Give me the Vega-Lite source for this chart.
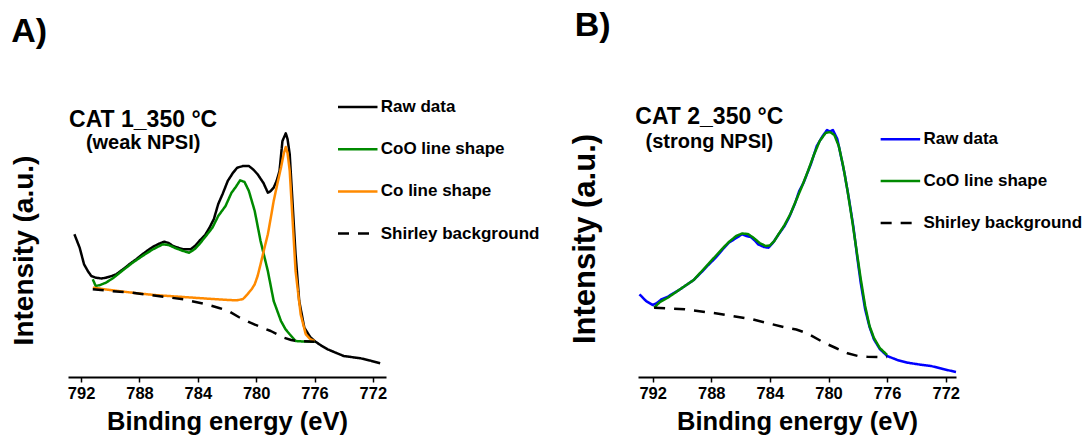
{
  "$schema": "https://vega.github.io/schema/vega-lite/v6.json",
  "padding": {"left": 10, "top": 8, "right": 0, "bottom": 0},
  "background": "white",
  "config": {
    "view": {"stroke": null},
    "font": "Liberation Sans",
    "axis": {"grid": false}
  },
  "datasets": {
    "panelA": [
      {"s": "Raw data", "E": 792.46, "I": 142.7}, {"s": "Raw data", "E": 792.1, "I": 129.3}, {"s": "Raw data", "E": 791.8, "I": 112.7},
      {"s": "Raw data", "E": 791.5, "I": 105}, {"s": "Raw data", "E": 791.3, "I": 101}, {"s": "Raw data", "E": 791.0, "I": 99.3},
      {"s": "Raw data", "E": 790.6, "I": 98.5}, {"s": "Raw data", "E": 790.3, "I": 99.3}, {"s": "Raw data", "E": 789.9, "I": 101},
      {"s": "Raw data", "E": 789.6, "I": 102.7}, {"s": "Raw data", "E": 789.1, "I": 108}, {"s": "Raw data", "E": 788.7, "I": 112.7},
      {"s": "Raw data", "E": 788.2, "I": 118}, {"s": "Raw data", "E": 787.8, "I": 122.7}, {"s": "Raw data", "E": 787.4, "I": 127},
      {"s": "Raw data", "E": 787.1, "I": 130}, {"s": "Raw data", "E": 786.7, "I": 133}, {"s": "Raw data", "E": 786.3, "I": 135.3},
      {"s": "Raw data", "E": 786.0, "I": 134}, {"s": "Raw data", "E": 785.7, "I": 131}, {"s": "Raw data", "E": 785.3, "I": 129},
      {"s": "Raw data", "E": 785.0, "I": 127.7}, {"s": "Raw data", "E": 784.5, "I": 127.7}, {"s": "Raw data", "E": 784.2, "I": 131},
      {"s": "Raw data", "E": 783.9, "I": 136}, {"s": "Raw data", "E": 783.5, "I": 142}, {"s": "Raw data", "E": 783.2, "I": 149.3},
      {"s": "Raw data", "E": 782.9, "I": 158}, {"s": "Raw data", "E": 782.6, "I": 173}, {"s": "Raw data", "E": 782.3, "I": 183},
      {"s": "Raw data", "E": 781.95, "I": 196}, {"s": "Raw data", "E": 781.6, "I": 204}, {"s": "Raw data", "E": 781.3, "I": 209.3},
      {"s": "Raw data", "E": 780.9, "I": 211}, {"s": "Raw data", "E": 780.5, "I": 211}, {"s": "Raw data", "E": 780.2, "I": 207.5},
      {"s": "Raw data", "E": 779.9, "I": 202.7}, {"s": "Raw data", "E": 779.5, "I": 194}, {"s": "Raw data", "E": 779.2, "I": 184.3},
      {"s": "Raw data", "E": 779.0, "I": 186}, {"s": "Raw data", "E": 778.8, "I": 189.3}, {"s": "Raw data", "E": 778.6, "I": 196},
      {"s": "Raw data", "E": 778.4, "I": 206}, {"s": "Raw data", "E": 778.2, "I": 236}, {"s": "Raw data", "E": 777.97, "I": 243.7},
      {"s": "Raw data", "E": 777.85, "I": 238}, {"s": "Raw data", "E": 777.7, "I": 222.7}, {"s": "Raw data", "E": 777.5, "I": 172.7},
      {"s": "Raw data", "E": 777.3, "I": 122.7}, {"s": "Raw data", "E": 777.05, "I": 76}, {"s": "Raw data", "E": 776.7, "I": 49.3},
      {"s": "Raw data", "E": 776.3, "I": 40}, {"s": "Raw data", "E": 776.0, "I": 36}, {"s": "Raw data", "E": 775.5, "I": 31},
      {"s": "Raw data", "E": 775.1, "I": 27.7}, {"s": "Raw data", "E": 774.5, "I": 24}, {"s": "Raw data", "E": 774.0, "I": 21},
      {"s": "Raw data", "E": 773.5, "I": 20}, {"s": "Raw data", "E": 772.85, "I": 18.7}, {"s": "Raw data", "E": 772.2, "I": 16.5},
      {"s": "Raw data", "E": 771.5, "I": 13.7},
      {"s": "CoO line shape", "E": 791.2, "I": 97.7}, {"s": "CoO line shape", "E": 791.0, "I": 91}, {"s": "CoO line shape", "E": 790.7, "I": 92},
      {"s": "CoO line shape", "E": 790.3, "I": 94.3}, {"s": "CoO line shape", "E": 789.8, "I": 99}, {"s": "CoO line shape", "E": 789.2, "I": 106},
      {"s": "CoO line shape", "E": 788.5, "I": 114}, {"s": "CoO line shape", "E": 787.8, "I": 121}, {"s": "CoO line shape", "E": 787.1, "I": 127.5},
      {"s": "CoO line shape", "E": 786.4, "I": 132.7}, {"s": "CoO line shape", "E": 786.0, "I": 132}, {"s": "CoO line shape", "E": 785.5, "I": 128.7},
      {"s": "CoO line shape", "E": 785.0, "I": 126}, {"s": "CoO line shape", "E": 784.6, "I": 124.3}, {"s": "CoO line shape", "E": 784.2, "I": 128},
      {"s": "CoO line shape", "E": 783.9, "I": 132.7}, {"s": "CoO line shape", "E": 783.5, "I": 140}, {"s": "CoO line shape", "E": 783.0, "I": 149.3},
      {"s": "CoO line shape", "E": 782.6, "I": 161}, {"s": "CoO line shape", "E": 782.1, "I": 171}, {"s": "CoO line shape", "E": 781.7, "I": 184},
      {"s": "CoO line shape", "E": 781.4, "I": 190}, {"s": "CoO line shape", "E": 781.1, "I": 196.7}, {"s": "CoO line shape", "E": 780.8, "I": 195},
      {"s": "CoO line shape", "E": 780.5, "I": 186}, {"s": "CoO line shape", "E": 780.1, "I": 166}, {"s": "CoO line shape", "E": 779.7, "I": 136},
      {"s": "CoO line shape", "E": 779.2, "I": 106}, {"s": "CoO line shape", "E": 778.8, "I": 76}, {"s": "CoO line shape", "E": 778.3, "I": 56},
      {"s": "CoO line shape", "E": 778.0, "I": 48}, {"s": "CoO line shape", "E": 777.7, "I": 42.7}, {"s": "CoO line shape", "E": 777.3, "I": 36},
      {"s": "CoO line shape", "E": 776.8, "I": 35.5}, {"s": "CoO line shape", "E": 776.0, "I": 35.3},
      {"s": "Co line shape", "E": 791.2, "I": 89.3}, {"s": "Co line shape", "E": 790.0, "I": 87}, {"s": "Co line shape", "E": 788.5, "I": 84.3},
      {"s": "Co line shape", "E": 787.0, "I": 82}, {"s": "Co line shape", "E": 785.0, "I": 80}, {"s": "Co line shape", "E": 783.5, "I": 78.5},
      {"s": "Co line shape", "E": 781.9, "I": 77}, {"s": "Co line shape", "E": 781.3, "I": 76.7}, {"s": "Co line shape", "E": 780.9, "I": 78},
      {"s": "Co line shape", "E": 780.6, "I": 82.7}, {"s": "Co line shape", "E": 780.3, "I": 88}, {"s": "Co line shape", "E": 780.1, "I": 92.7},
      {"s": "Co line shape", "E": 779.9, "I": 101}, {"s": "Co line shape", "E": 779.7, "I": 112.7}, {"s": "Co line shape", "E": 779.45, "I": 128},
      {"s": "Co line shape", "E": 779.2, "I": 142.7}, {"s": "Co line shape", "E": 779.0, "I": 159}, {"s": "Co line shape", "E": 778.8, "I": 176},
      {"s": "Co line shape", "E": 778.55, "I": 193}, {"s": "Co line shape", "E": 778.3, "I": 209.3}, {"s": "Co line shape", "E": 778.1, "I": 224},
      {"s": "Co line shape", "E": 777.97, "I": 230}, {"s": "Co line shape", "E": 777.85, "I": 224}, {"s": "Co line shape", "E": 777.7, "I": 206},
      {"s": "Co line shape", "E": 777.5, "I": 156}, {"s": "Co line shape", "E": 777.3, "I": 106}, {"s": "Co line shape", "E": 776.95, "I": 62.7},
      {"s": "Co line shape", "E": 776.6, "I": 42.7}, {"s": "Co line shape", "E": 776.3, "I": 38}, {"s": "Co line shape", "E": 776.0, "I": 36},
      {"s": "Shirley background", "E": 791.2, "I": 87.7}, {"s": "Shirley background", "E": 790.0, "I": 86}, {"s": "Shirley background", "E": 788.5, "I": 84.3},
      {"s": "Shirley background", "E": 787.0, "I": 81.5}, {"s": "Shirley background", "E": 785.0, "I": 77.7}, {"s": "Shirley background", "E": 783.5, "I": 73},
      {"s": "Shirley background", "E": 782.6, "I": 69.3}, {"s": "Shirley background", "E": 781.9, "I": 66}, {"s": "Shirley background", "E": 781.2, "I": 60},
      {"s": "Shirley background", "E": 780.4, "I": 54.3}, {"s": "Shirley background", "E": 779.7, "I": 50}, {"s": "Shirley background", "E": 779.0, "I": 46},
      {"s": "Shirley background", "E": 778.1, "I": 39.3}, {"s": "Shirley background", "E": 777.6, "I": 37}, {"s": "Shirley background", "E": 777.2, "I": 36},
      {"s": "Shirley background", "E": 776.0, "I": 35.3}
    ],
    "panelB": [
      {"s": "Raw data", "E": 792.9, "I": 82.7}, {"s": "Raw data", "E": 792.45, "I": 76}, {"s": "Raw data", "E": 792.0, "I": 72},
      {"s": "Raw data", "E": 791.7, "I": 74}, {"s": "Raw data", "E": 791.4, "I": 77.7}, {"s": "Raw data", "E": 791.0, "I": 80},
      {"s": "Raw data", "E": 790.7, "I": 82.7}, {"s": "Raw data", "E": 790.2, "I": 87}, {"s": "Raw data", "E": 789.8, "I": 91},
      {"s": "Raw data", "E": 789.2, "I": 97}, {"s": "Raw data", "E": 788.7, "I": 104.3}, {"s": "Raw data", "E": 788.2, "I": 112},
      {"s": "Raw data", "E": 787.7, "I": 119.3}, {"s": "Raw data", "E": 787.2, "I": 128}, {"s": "Raw data", "E": 786.8, "I": 134.3},
      {"s": "Raw data", "E": 786.3, "I": 139}, {"s": "Raw data", "E": 785.9, "I": 142.7}, {"s": "Raw data", "E": 785.6, "I": 141},
      {"s": "Raw data", "E": 785.3, "I": 140}, {"s": "Raw data", "E": 785.0, "I": 136}, {"s": "Raw data", "E": 784.8, "I": 132.7},
      {"s": "Raw data", "E": 784.4, "I": 130}, {"s": "Raw data", "E": 784.1, "I": 129.3}, {"s": "Raw data", "E": 783.8, "I": 134},
      {"s": "Raw data", "E": 783.4, "I": 142.7}, {"s": "Raw data", "E": 783.0, "I": 151}, {"s": "Raw data", "E": 782.7, "I": 159.3},
      {"s": "Raw data", "E": 782.3, "I": 173}, {"s": "Raw data", "E": 782.0, "I": 186}, {"s": "Raw data", "E": 781.7, "I": 194.3},
      {"s": "Raw data", "E": 781.2, "I": 213}, {"s": "Raw data", "E": 780.8, "I": 231}, {"s": "Raw data", "E": 780.4, "I": 241},
      {"s": "Raw data", "E": 780.1, "I": 247}, {"s": "Raw data", "E": 779.9, "I": 245.5}, {"s": "Raw data", "E": 779.7, "I": 247},
      {"s": "Raw data", "E": 779.4, "I": 238}, {"s": "Raw data", "E": 779.2, "I": 224.3}, {"s": "Raw data", "E": 778.9, "I": 203},
      {"s": "Raw data", "E": 778.6, "I": 177.7}, {"s": "Raw data", "E": 778.3, "I": 150}, {"s": "Raw data", "E": 778.05, "I": 121},
      {"s": "Raw data", "E": 777.8, "I": 94}, {"s": "Raw data", "E": 777.5, "I": 67.7}, {"s": "Raw data", "E": 777.2, "I": 50},
      {"s": "Raw data", "E": 776.9, "I": 37.7}, {"s": "Raw data", "E": 776.5, "I": 28}, {"s": "Raw data", "E": 776.0, "I": 21},
      {"s": "Raw data", "E": 775.3, "I": 17}, {"s": "Raw data", "E": 774.6, "I": 14.3}, {"s": "Raw data", "E": 773.8, "I": 12.5},
      {"s": "Raw data", "E": 773.0, "I": 11}, {"s": "Raw data", "E": 772.2, "I": 8}, {"s": "Raw data", "E": 771.3, "I": 5},
      {"s": "CoO line shape", "E": 791.9, "I": 69.3}, {"s": "CoO line shape", "E": 791.5, "I": 75}, {"s": "CoO line shape", "E": 791.0, "I": 79},
      {"s": "CoO line shape", "E": 790.5, "I": 84}, {"s": "CoO line shape", "E": 789.8, "I": 91}, {"s": "CoO line shape", "E": 789.2, "I": 97},
      {"s": "CoO line shape", "E": 788.7, "I": 105}, {"s": "CoO line shape", "E": 788.2, "I": 113}, {"s": "CoO line shape", "E": 787.7, "I": 121},
      {"s": "CoO line shape", "E": 787.2, "I": 129}, {"s": "CoO line shape", "E": 786.8, "I": 135}, {"s": "CoO line shape", "E": 786.3, "I": 141},
      {"s": "CoO line shape", "E": 785.9, "I": 143.5}, {"s": "CoO line shape", "E": 785.5, "I": 143}, {"s": "CoO line shape", "E": 785.1, "I": 139},
      {"s": "CoO line shape", "E": 784.7, "I": 134}, {"s": "CoO line shape", "E": 784.3, "I": 131}, {"s": "CoO line shape", "E": 784.0, "I": 131.5},
      {"s": "CoO line shape", "E": 783.7, "I": 136}, {"s": "CoO line shape", "E": 783.4, "I": 143}, {"s": "CoO line shape", "E": 783.0, "I": 152},
      {"s": "CoO line shape", "E": 782.6, "I": 163}, {"s": "CoO line shape", "E": 782.2, "I": 177}, {"s": "CoO line shape", "E": 781.8, "I": 191},
      {"s": "CoO line shape", "E": 781.4, "I": 206}, {"s": "CoO line shape", "E": 781.0, "I": 222}, {"s": "CoO line shape", "E": 780.6, "I": 236},
      {"s": "CoO line shape", "E": 780.2, "I": 244}, {"s": "CoO line shape", "E": 779.9, "I": 245}, {"s": "CoO line shape", "E": 779.6, "I": 242},
      {"s": "CoO line shape", "E": 779.3, "I": 231}, {"s": "CoO line shape", "E": 779.0, "I": 211}, {"s": "CoO line shape", "E": 778.7, "I": 186},
      {"s": "CoO line shape", "E": 778.4, "I": 158}, {"s": "CoO line shape", "E": 778.1, "I": 128}, {"s": "CoO line shape", "E": 777.8, "I": 98},
      {"s": "CoO line shape", "E": 777.5, "I": 71}, {"s": "CoO line shape", "E": 777.2, "I": 51}, {"s": "CoO line shape", "E": 776.9, "I": 39},
      {"s": "CoO line shape", "E": 776.5, "I": 29}, {"s": "CoO line shape", "E": 776.0, "I": 22},
      {"s": "Shirley background", "E": 791.9, "I": 69.3}, {"s": "Shirley background", "E": 789.8, "I": 67.7}, {"s": "Shirley background", "E": 787.5, "I": 63.3},
      {"s": "Shirley background", "E": 785.2, "I": 57.7}, {"s": "Shirley background", "E": 782.9, "I": 49.3}, {"s": "Shirley background", "E": 782.2, "I": 47.5},
      {"s": "Shirley background", "E": 781.5, "I": 44}, {"s": "Shirley background", "E": 780.3, "I": 34.3}, {"s": "Shirley background", "E": 779.5, "I": 29},
      {"s": "Shirley background", "E": 778.7, "I": 23.7}, {"s": "Shirley background", "E": 778.0, "I": 21}, {"s": "Shirley background", "E": 777.35, "I": 20.3},
      {"s": "Shirley background", "E": 776.6, "I": 20}, {"s": "Shirley background", "E": 776.0, "I": 20}
    ]
  },
  "bounds": "flush",
  "spacing": 252,
  "resolve": {
    "scale": {"x": "independent", "y": "independent", "color": "independent", "strokeDash": "independent"},
    "legend": {"color": "independent", "strokeDash": "independent"}
  },
  "hconcat": [
    {
      "width": 318,
      "height": 248,
      "title": {"text": "A)", "anchor": "start", "frame": "group", "dx": -56.7, "offset": 10.3, "baseline": "alphabetic", "fontSize": 34, "font": "Liberation Sans", "fontWeight": "bold", "color": "black"},
      "layer": [
        {
          "data": {"name": "panelA"},
          "mark": {"type": "line", "strokeWidth": 2.5, "strokeJoin": "round"},
          "encoding": {
            "x": {"field": "E", "type": "quantitative", "sort": null,
              "scale": {"domain": [771.1, 792.9], "reverse": true, "nice": false, "zero": false},
              "axis": {"title": "Binding energy (eV)", "values": [792, 790, 788, 786, 784, 782, 780, 778, 776, 774, 772],
                "labelExpr": "datum.value % 4 === 0 ? datum.label : ''", "tickSize": 5, "tickWidth": 1.5, "tickColor": "black",
                "domainColor": "black", "domainWidth": 2, "labelFont": "Liberation Sans", "labelFontSize": 16.5, "labelFontWeight": "bold",
                "labelColor": "black", "labelPadding": 3, "labelFlush": false, "labelOverlap": false,
                "titleFont": "Liberation Sans", "titleFontSize": 25.5, "titleFontWeight": "bold", "titleColor": "black", "titlePadding": 8}},
            "y": {"field": "I", "type": "quantitative",
              "scale": {"domain": [0, 248], "nice": false, "zero": true},
              "axis": {"title": "Intensity (a.u.)", "labels": false, "ticks": false, "domain": false, "grid": false,
                "titleFont": "Liberation Sans", "titleFontSize": 28, "titleFontWeight": "bold", "titleColor": "black", "titlePadding": 30, "titleY": 121}},
            "color": {"field": "s", "type": "nominal",
              "scale": {"domain": ["Raw data", "CoO line shape", "Co line shape", "Shirley background"], "range": ["#000000", "#008a00", "#ff8a00", "#000000"]},
              "legend": {"title": null, "orient": "none", "legendX": 268.75, "legendY": -43, "padding": 0, "rowPadding": 13.2,
                "symbolType": "stroke", "symbolSize": 1560, "symbolStrokeWidth": 2.5, "labelOffset": 2, "labelLimit": 300,
                "labelFont": "Liberation Sans", "labelFontSize": 17, "labelFontWeight": "bold", "labelColor": "black"}},
            "strokeDash": {"field": "s", "type": "nominal",
              "scale": {"domain": ["Raw data", "CoO line shape", "Co line shape", "Shirley background"], "range": [[1, 0], [1, 0], [1, 0], [11, 9]]},
              "legend": {"title": null, "orient": "none", "legendX": 268.75, "legendY": -43, "padding": 0, "rowPadding": 13.2,
                "symbolType": "stroke", "symbolSize": 1560, "symbolStrokeWidth": 2.5, "labelOffset": 2, "labelLimit": 300,
                "labelFont": "Liberation Sans", "labelFontSize": 17, "labelFontWeight": "bold", "labelColor": "black"}}
          }
        },
        {
          "data": {"values": [{"t": "CAT 1_350 °C"}]},
          "mark": {"type": "text", "font": "Liberation Sans", "fontSize": 23, "fontWeight": "bold", "align": "center", "baseline": "alphabetic", "color": "black"},
          "encoding": {"x": {"datum": 787.75}, "y": {"datum": 250}, "text": {"field": "t"}}
        },
        {
          "data": {"values": [{"t": "(weak NPSI)"}]},
          "mark": {"type": "text", "font": "Liberation Sans", "fontSize": 20, "fontWeight": "bold", "align": "center", "baseline": "alphabetic", "color": "black"},
          "encoding": {"x": {"datum": 787.75}, "y": {"datum": 228}, "text": {"field": "t"}}
        }
      ]
    },
    {
      "width": 318,
      "height": 248,
      "title": {"text": "B)", "anchor": "start", "frame": "group", "dx": -63.3, "offset": 35.7, "baseline": "alphabetic", "fontSize": 34, "font": "Liberation Sans", "fontWeight": "bold", "color": "black"},
      "layer": [
        {
          "data": {"name": "panelB"},
          "mark": {"type": "line", "strokeWidth": 2.5, "strokeJoin": "round"},
          "encoding": {
            "x": {"field": "E", "type": "quantitative", "sort": null,
              "scale": {"domain": [771.3, 793.0], "reverse": true, "nice": false, "zero": false},
              "axis": {"title": "Binding energy (eV)", "values": [792, 790, 788, 786, 784, 782, 780, 778, 776, 774, 772],
                "labelExpr": "datum.value % 4 === 0 ? datum.label : ''", "tickSize": 5, "tickWidth": 1.5, "tickColor": "black",
                "domainColor": "black", "domainWidth": 2, "labelFont": "Liberation Sans", "labelFontSize": 16.5, "labelFontWeight": "bold",
                "labelColor": "black", "labelPadding": 3, "labelFlush": false, "labelOverlap": false,
                "titleFont": "Liberation Sans", "titleFontSize": 25.5, "titleFontWeight": "bold", "titleColor": "black", "titlePadding": 8}},
            "y": {"field": "I", "type": "quantitative",
              "scale": {"domain": [0, 248], "nice": false, "zero": true},
              "axis": {"title": "Intensity (a.u.)", "labels": false, "ticks": false, "domain": false, "grid": false,
                "titleFont": "Liberation Sans", "titleFontSize": 31, "titleFontWeight": "bold", "titleColor": "black", "titlePadding": 37, "titleY": 109.5}},
            "color": {"field": "s", "type": "nominal",
              "scale": {"domain": ["Raw data", "CoO line shape", "Shirley background"], "range": ["#0000ff", "#008a00", "#000000"]},
              "legend": {"title": null, "orient": "none", "legendX": 241.4, "legendY": -10.7, "padding": 0, "rowPadding": 12.8,
                "symbolType": "stroke", "symbolSize": 1560, "symbolStrokeWidth": 2.5, "labelOffset": 2, "labelLimit": 300,
                "labelFont": "Liberation Sans", "labelFontSize": 17, "labelFontWeight": "bold", "labelColor": "black"}},
            "strokeDash": {"field": "s", "type": "nominal",
              "scale": {"domain": ["Raw data", "CoO line shape", "Shirley background"], "range": [[1, 0], [1, 0], [11, 9]]},
              "legend": {"title": null, "orient": "none", "legendX": 241.4, "legendY": -10.7, "padding": 0, "rowPadding": 12.8,
                "symbolType": "stroke", "symbolSize": 1560, "symbolStrokeWidth": 2.5, "labelOffset": 2, "labelLimit": 300,
                "labelFont": "Liberation Sans", "labelFontSize": 17, "labelFontWeight": "bold", "labelColor": "black"}}
          }
        },
        {
          "data": {"values": [{"t": "CAT 2_350 °C"}]},
          "mark": {"type": "text", "font": "Liberation Sans", "fontSize": 23, "fontWeight": "bold", "align": "center", "baseline": "alphabetic", "color": "black"},
          "encoding": {"x": {"datum": 788.13}, "y": {"datum": 253.3}, "text": {"field": "t"}}
        },
        {
          "data": {"values": [{"t": "(strong NPSI)"}]},
          "mark": {"type": "text", "font": "Liberation Sans", "fontSize": 20, "fontWeight": "bold", "align": "center", "baseline": "alphabetic", "color": "black"},
          "encoding": {"x": {"datum": 788.13}, "y": {"datum": 229}, "text": {"field": "t"}}
        }
      ]
    }
  ]
}
